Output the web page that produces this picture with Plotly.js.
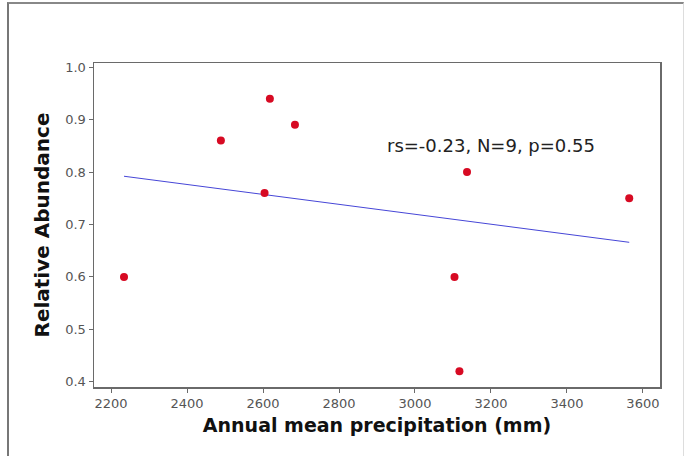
<!DOCTYPE html>
<html>
<head>
<meta charset="utf-8">
<script src="https://cdn.plot.ly/plotly-3.0.1.min.js"></script>
<style>
  html, body { margin: 0; padding: 0; background: #fff; }
  #wrap { position: relative; width: 684px; height: 456px; }
  #chart { width: 684px; height: 456px; }
  #frame { position: absolute; left: 7px; top: 2px; width: 674px; height: 460px;
           border-left: 2px solid #777; border-top: 2px solid #888; border-right: 1px solid #ddd;
           pointer-events: none; }
</style>
</head>
<body>
<div id="wrap">
  <div id="chart"></div>
  <div id="frame"></div>
</div>
<script>
// Data
const precipitation = [2234, 2489, 2618, 2684, 2604, 3137, 3564, 3104, 3117];
const abundance     = [0.60, 0.86, 0.94, 0.89, 0.76, 0.80, 0.75, 0.60, 0.42];
const fitX = [2234, 3564];
const fitY = [0.792, 0.666];
const xTicks = [2200, 2400, 2600, 2800, 3000, 3200, 3400, 3600];
const yTicks = [0.4, 0.5, 0.6, 0.7, 0.8, 0.9, 1.0];
const statsLabel = 'rs=-0.23, N=9, p=0.55';

const traces = [
  {
    x: fitX, y: fitY, type: 'scatter', mode: 'lines',
    line: { color: 'rgb(70,70,215)', width: 1 }, hoverinfo: 'skip'
  },
  {
    x: precipitation, y: abundance, type: 'scatter', mode: 'markers',
    marker: { color: 'rgb(215,10,35)', size: 8 }
  }
];

const axisCommon = {
  showgrid: false, zeroline: false, showline: true, mirror: true,
  linecolor: '#6a6a6a', linewidth: 1.5,
  ticks: 'outside', ticklen: 4, tickwidth: 1, tickcolor: '#6a6a6a',
  tickfont: { family: 'DejaVu Sans, sans-serif', size: 13, color: '#555' }
};

const layout = {
  width: 684, height: 456,
  margin: { l: 94, r: 24, t: 63, b: 69 },
  paper_bgcolor: '#fff', plot_bgcolor: '#fff',
  showlegend: false,
  xaxis: Object.assign({}, axisCommon, {
    range: [2155, 3645], tickvals: xTicks, ticktext: xTicks.map(String),
    title: { text: 'Annual mean precipitation (mm)', standoff: 8,
             font: { family: 'DejaVu Sans, sans-serif', size: 19, color: '#111', weight: 'bold' } }
  }),
  yaxis: Object.assign({}, axisCommon, {
    range: [0.39, 1.008], tickvals: yTicks, ticktext: yTicks.map(v => v.toFixed(1)),
    title: { text: 'Relative Abundance', standoff: 10,
             font: { family: 'DejaVu Sans, sans-serif', size: 20, color: '#111', weight: 'bold' } }
  }),
  annotations: [{
    text: statsLabel, xref: 'x', yref: 'y', x: 3200, y: 0.85,
    showarrow: false, font: { family: 'DejaVu Sans, sans-serif', size: 18, color: '#222' }
  }]
};

Plotly.newPlot('chart', traces, layout, { displayModeBar: false, staticPlot: true });
</script>
</body>
</html>
